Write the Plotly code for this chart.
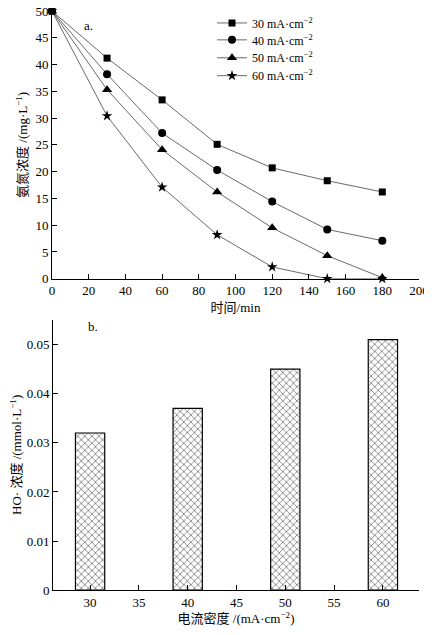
import plotly.graph_objects as go

# 图a: 氨氮浓度随时间变化
time_min = [0, 30, 60, 90, 120, 150, 180]
c30 = [50, 41.2, 33.4, 25.1, 20.7, 18.3, 16.2]
c40 = [50, 38.2, 27.2, 20.3, 14.4, 9.2, 7.1]
c50 = [50, 35.3, 24.1, 16.2, 9.5, 4.3, 0.2]
c60 = [50, 30.4, 17.1, 8.2, 2.2, 0.0, 0.0]
series_names = ["30 mA·cm<sup>−2</sup>", "40 mA·cm<sup>−2</sup>",
                "50 mA·cm<sup>−2</sup>", "60 mA·cm<sup>−2</sup>"]

# 图b: HO·浓度
density = [30, 40, 50, 60]
ho_conc = [0.032, 0.037, 0.045, 0.051]

FONT = "Liberation Serif, Noto Sans CJK SC, serif"

# 页面body自带8px边距, 画布缩小8px并按参考图像素换算
W, H = 424, 627
def px(x):
    return (x - 8) / W
def py(y):
    return 1 - (y - 8) / H

fig = go.Figure()

symbols = ["square", "circle", "triangle-up", "star"]
msizes = [7, 8, 9, 8]
legend_ids = ["legend", "legend2", "legend3", "legend4"]
for ys, nm, sym, ms, lg in zip([c30, c40, c50, c60], series_names, symbols, msizes, legend_ids):
    fig.add_trace(go.Scatter(x=time_min, y=ys, name=nm, mode="lines+markers",
                             line=dict(color="#444", width=0.8),
                             marker=dict(symbol=sym, size=ms, color="black"),
                             xaxis="x", yaxis="y", cliponaxis=False, legend=lg))

fig.add_trace(go.Bar(x=density, y=ho_conc, width=3, showlegend=False,
                     marker=dict(color="white", line=dict(color="black", width=1.2),
                                 pattern=dict(shape="x", fgcolor="black", bgcolor="white",
                                              size=5, solidity=0.3)),
                     xaxis="x2", yaxis="y2"))

axis_common = dict(showline=True, linecolor="black", linewidth=1, ticks="inside",
                   ticklen=5, tickcolor="black", showgrid=False, zeroline=False,
                   automargin=False, ticklabeloverflow="allow",
                   tickfont=dict(family=FONT, size=13, color="black"),
                   title_font=dict(family=FONT, size=13, color="black"))

# 图例逐行放置, 行距与原图一致
legend_rows = [20, 37, 55, 73]
legend_style = dict(xanchor="left", yanchor="middle",
                    font=dict(family=FONT, size=12, color="black"),
                    bgcolor="rgba(0,0,0,0)", itemwidth=30)
legends = {lg: dict(legend_style, x=px(212), y=py(r)) for lg, r in zip(legend_ids, legend_rows)}

fig.update_layout(
    width=W, height=H, margin=dict(l=0, r=0, t=0, b=0),
    paper_bgcolor="white", plot_bgcolor="white",
    font=dict(family=FONT, color="black"),
    xaxis=dict(axis_common, domain=[px(52), px(419)], range=[0, 200], dtick=20,
               anchor="y", title=dict(text="时间/min", standoff=5)),
    yaxis=dict(axis_common, domain=[py(277), 1.0], range=[0, 50], dtick=5,
               anchor="x", title=dict(text="氨氮浓度 /(mg·L<sup>−1</sup>)", standoff=4)),
    xaxis2=dict(axis_common, domain=[px(53), px(419)], range=[26.2, 63.7], dtick=5,
                anchor="y2", title=dict(text="电流密度 /(mA·cm<sup>−2</sup>)", standoff=5)),
    yaxis2=dict(axis_common, domain=[py(590), py(318)], range=[0, 0.0551],
                tickvals=[0, 0.01, 0.02, 0.03, 0.04, 0.05, 0.0551],
                ticktext=["0", "0.01", "0.02", "0.03", "0.04", "0.05", ""],
                anchor="x2", title=dict(text="HO· 浓度 /(mmol·L<sup>−1</sup>)", standoff=4)),
    annotations=[
        dict(text="a.", x=px(82), y=py(13), xref="paper", yref="paper",
             showarrow=False, font=dict(family=FONT, size=13)),
        dict(text="b.", x=px(86), y=py(325), xref="paper", yref="paper",
             showarrow=False, font=dict(family=FONT, size=13)),
    ],
    **legends,
)

fig.write_html("out.html")
